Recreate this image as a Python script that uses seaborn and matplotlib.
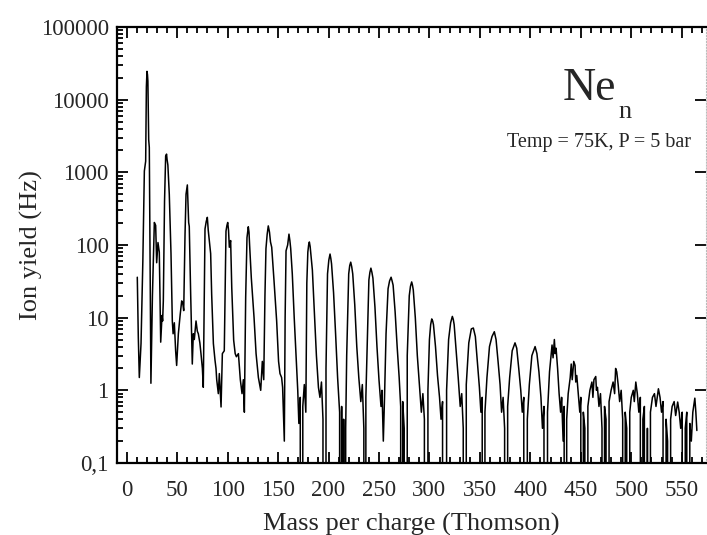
import numpy as np
import pandas as pd
import matplotlib
matplotlib.use("Agg")
import matplotlib.pyplot as plt
from matplotlib.ticker import MultipleLocator, LogLocator, NullFormatter
import seaborn as sns

# mass spectrum of Ne clusters (0 = no counts)
# one line per cluster size, mass and yield lines kept aligned
mass = [10.5, 11.5, 12.5, 14.2, 16, 17.5, 18.8, 19.5, 20.1, 20.6, 21, 21.8, 22.4, 23.2, 24,
        25.5, 27.4, 28.7, 29.7, 31, 32.3, 33.7, 35, 35.6, 36.3,
        37.5, 38.6, 39.5, 40, 40.8, 42.2, 43.9, 45.2, 46, 47.2, 48.5, 49.5, 51.2, 53, 54.5, 55.5, 56.5,
        57.8, 58.8, 60.1, 61.4, 62, 63.4, 65, 66, 67, 68.7, 70, 71, 72.5, 73.6, 75, 75.9,
        77.6, 78.8, 79.9, 80.8, 81.9, 83.2, 84.2, 85.9, 87.5, 88.5, 89.2, 90.8, 91.8, 93.5, 94.8, 96.7,
        97.5, 98.4, 99.3, 100.1, 100.9, 101.7, 103, 104.1, 106, 107.5, 108.7, 110.7, 112.6, 114.3, 115.6, 116.6,
        117.9, 119.2, 120.5, 121.2, 121.8, 123.5, 126.2, 128.2, 130.5, 132.8, 134.4, 135.8,
        137, 138, 139.2, 140.3, 141.5, 142.5, 143.7, 146, 148.6, 150.5, 151.9, 153.5, 154.5, 156.2,
        157, 157.9, 159.5, 160.8, 161.7, 162.5, 164.1, 166, 168.3, 169.5, 170.6, 172, 173.4, 174.5, 176, 177.5,
        178.5, 179.5, 180.3, 181, 181.8, 182.5, 184, 186, 188, 190, 191.5, 193, 194.5, 196.5,
        197.5, 199, 200.3, 201.5, 202.3, 203, 205, 207, 209, 211, 212, 213, 214, 215, 216, 217,
        218, 220, 221, 222, 223, 224, 226, 228, 230, 232, 233.5, 235, 236, 237,
        238.5, 240, 241, 242, 243, 244, 246, 248, 250, 252, 253, 254.3, 255.5,
        257, 259, 260.5, 262, 263, 264, 266, 268, 270, 271.5, 272.5, 273.5, 275, 276.8,
        278, 280, 281.2, 282.4, 283.2, 284, 286, 288, 290, 292, 293.5, 295, 297.3,
        298.5, 300, 301.2, 302.3, 303.2, 304, 306, 308, 310, 311.5, 313, 315.5,
        317, 319, 321, 322.7, 323.6, 324.5, 326.5, 328.5, 330.5, 332, 333.5, 335,
        336.5, 339, 341.5, 343.5, 345.5, 347.5, 349.5, 351, 352.3, 353.4,
        355, 357, 359.5, 362, 364.3, 366, 368, 370, 371.5, 373, 374.5, 376,
        377.5, 379.5, 382, 384.8, 386.5, 388.5, 390.5, 392, 393.5, 395.7,
        397, 399, 401.5, 404.7, 406.5, 408.5, 410.5, 412, 413.5, 416,
        417, 419, 420.5, 421.5, 422.5, 423.8, 424.6, 425.5, 427, 428.5, 430, 431, 432.5, 433.5, 435,
        436, 437.5, 439.5, 440.5, 441.5, 443, 444.3, 445, 446, 447.5, 449, 450, 451, 452.5, 454, 455.5,
        457, 459, 461, 462, 463, 464.8, 465.5, 466.5, 468, 469.5, 471, 472, 473.5, 475, 476.5,
        478, 480, 482, 483.5, 484.5, 485.6, 487, 488.5, 490, 491.5, 492.5, 494, 495.5, 497,
        498.5, 500, 502, 503, 504.5, 506, 507.5, 509, 510, 511.5, 513, 514.5, 516, 517.5,
        519, 521, 523, 524.5, 526.9, 528.5, 530, 531.5, 533, 534.5, 536, 537.5,
        539, 540.5, 542.5, 544, 546, 547.5, 549, 550.5, 552, 553.5, 555, 556.5, 558, 559.5, 561, 563, 564, 565]
ion_yield = [36, 5.4, 1.5, 4.4, 60, 1040, 1420, 15000, 24500, 22000, 18000, 2800, 2200, 40, 1.25,
             20, 204, 186, 57, 108, 80, 4.6, 10.7, 9, 17,
             400, 1670, 1780, 1500, 1260, 500, 76, 9, 6, 8.5, 3.5, 2.2, 6, 11, 17, 16, 12.5,
             140, 500, 670, 204, 180, 21, 2.3, 6, 5, 9, 6.5, 6, 4.5, 3.2, 2, 1.1,
             166, 210, 240, 160, 115, 76, 21, 4.4, 2.6, 2, 1.4, 0.9, 1.7, 0.59, 3.2, 3.5,
             20, 155, 185, 204, 160, 93, 115, 26, 4.9, 3.2, 2.9, 3.2, 1.4, 0.9, 1.4, 0.5,
             19, 126, 178, 150, 100, 35, 10, 3.2, 1.5, 1.0, 2.5, 1.4,
             20, 89, 140, 183, 150, 110, 93, 32, 9, 2.5, 1.7, 1.5, 1.1, 0.2,
             10, 83, 100, 141, 115, 90, 40, 10, 2.1, 1, 0.35, 0.8, 0, 0.6, 1.2, 0.5,
             30, 80, 100, 110, 95, 75, 45, 12, 3, 1.1, 0.8, 1.3, 0.4, 0,
             2, 40, 62, 75, 65, 55, 22, 6, 1.5, 0.5, 0, 0.6, 0, 0.4, 0, 0.3,
             3, 40, 52, 58, 50, 40, 15, 4, 1.5, 0.7, 1.2, 0.3, 0, 0.8,
             5, 33, 42, 48, 42, 35, 14, 4, 1.4, 0.6, 1.0, 0.2, 0.8,
             6, 25, 32, 36, 32, 28, 12, 4, 1.5, 0.6, 0, 0.7, 0.3, 0,
             3, 20, 27, 31, 28, 24, 10, 3, 1.2, 0.5, 0.9, 0.4, 0,
             1, 5, 8, 9.6, 9, 8, 4, 1.6, 0.8, 0.4, 0.7, 0,
             1, 5, 8.5, 10.4, 9.5, 8, 3.5, 1.5, 0.6, 0.9, 0.3, 0,
             1.2, 4.5, 7, 7.2, 5.5, 2.5, 1.1, 0.5, 0.8, 0,
             0.5, 1.5, 4, 5.5, 6.4, 5, 2.5, 1.2, 0.5, 0.8, 0.3, 0,
             0.6, 1.5, 3.5, 4.5, 3.8, 2, 1, 0.5, 0.8, 0,
             0.4, 1.2, 3, 4, 3.2, 1.8, 0.8, 0.3, 0.6, 0,
             0.5, 1.8, 3.0, 4.2, 2.8, 5, 3.2, 3.8, 2, 0.9, 0.5, 0.8, 0.2, 0.6, 0,
             0.4, 0.9, 1.5, 2.3, 1.4, 2.5, 2.2, 1.3, 1.6, 0.9, 0.5, 0.8, 0, 0.5, 0.3, 0,
             0.6, 1, 1.3, 0.8, 1.4, 1.55, 1.0, 1.1, 0.6, 0.9, 0.3, 0, 0.6, 0.4, 0,
             0.7, 1.0, 1.3, 0.9, 2.0, 1.8, 1.2, 0.7, 1.0, 0.4, 0, 0.5, 0.3, 0,
             0.5, 0.8, 1.0, 0.7, 1.3, 0.9, 0.5, 0.8, 0, 0.4, 0.6, 0, 0.3, 0,
             0.5, 0.8, 0.9, 0.6, 1.05, 0.8, 0.5, 0.7, 0, 0.4, 0.2, 0,
             0.4, 0.6, 0.7, 0.45, 0.69, 0.5, 0.3, 0.5, 0, 0.3, 0.5, 0, 0.35, 0.2, 0.5, 0.78, 0.5, 0.28]

ytick_vals = [0.1, 1, 10, 100, 1000, 10000, 100000]
ytick_labels = ["0,1", "1", "10", "100", "1000", "10000", "100000"]

spec = pd.DataFrame({"mass": mass, "yield": ion_yield})

sns.set_style("ticks")
plt.rcParams["font.family"] = ["Liberation Serif", "DejaVu Serif"]

fig = plt.figure(figsize=(7.07, 5.35), dpi=100)
ax = fig.add_axes([0.1655, 0.1346, 0.833, 0.815])

sns.lineplot(data=spec, x="mass", y="yield", ax=ax, color="black", lw=1.1,
             estimator=None, sort=False)

ax.set_yscale("log")
ax.set_ylim(0.1, 100000)
ax.set_xlim(-9.6, 574)

ax.set_yticks(ytick_vals)
ax.set_yticklabels(ytick_labels)
ax.yaxis.set_minor_locator(LogLocator(base=10, subs=np.arange(2, 10)))
ax.yaxis.set_minor_formatter(NullFormatter())
ax.xaxis.set_major_locator(MultipleLocator(50))
ax.xaxis.set_minor_locator(MultipleLocator(10))

ax.tick_params(which="both", direction="in", top=True, right=False, labelsize=16.5,
               width=1.3, color="black")
ax.tick_params(which="major", length=8)
ax.tick_params(which="minor", length=4)
ax.tick_params(axis="x", which="major", pad=12)
ax.tick_params(axis="y", which="major", pad=6, right=True)

for s in ["left", "bottom", "top"]:
    ax.spines[s].set_linewidth(1.6)
    ax.spines[s].set_color("black")
ax.spines["right"].set_visible(True)
ax.spines["right"].set_linestyle(":")
ax.spines["right"].set_color("#bbbbbb")
ax.spines["right"].set_linewidth(0.8)

ax.set_xlabel("Mass per charge (Thomson)", fontsize=19, labelpad=8.5)
ax.set_ylabel("Ion yield (Hz)", fontsize=19, labelpad=-2)

ax.text(0.757, 0.833, "Ne", transform=ax.transAxes, fontsize=33, ha="left", va="baseline")
ax.text(0.851, 0.791, "n", transform=ax.transAxes, fontsize=19, ha="left", va="baseline")
ax.text(0.9745, 0.725, "Temp = 75K, P = 5 bar", transform=ax.transAxes, fontsize=14.5,
        ha="right", va="baseline")

fig.savefig("out.png", dpi=100)
